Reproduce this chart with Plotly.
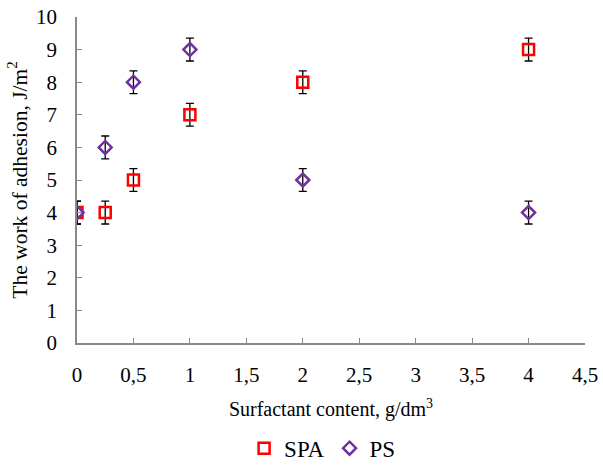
import plotly.graph_objects as go

x = [0, 0.25, 0.5, 1, 2, 4]
spa = [4, 4, 5, 7, 8, 9]
ps = [4, 6, 8, 9, 5, 4]
err = [0.35] * 6

font = "Liberation Serif"

fig = go.Figure()
fig.add_trace(go.Scatter(
    x=x, y=spa, mode="markers", name="SPA",
    marker=dict(symbol="square-open", size=11, color="#FF0000", line=dict(width=2.5, color="#FF0000")),
    error_y=dict(type="data", array=err, color="black", thickness=1.3, width=4),
))
fig.add_trace(go.Scatter(
    x=x, y=ps, mode="markers", name="PS",
    marker=dict(symbol="diamond-open", size=10, color="#7030A0", line=dict(width=2.5, color="#7030A0")),
    error_y=dict(type="data", array=err, color="black", thickness=1.3, width=4),
))

axis_common = dict(
    showgrid=False, zeroline=False, showline=True, linecolor="#898989", linewidth=1.5,
    ticks="inside", ticklen=5, tickcolor="#898989", tickwidth=1, automargin=False,
    ticklabeloverflow="allow",
    tickfont=dict(family=font, size=21, color="black"),
)

fig.update_layout(
    width=603, height=465,
    margin=dict(l=77, r=18, t=17, b=122),
    paper_bgcolor="white", plot_bgcolor="white",
    separators=", ",
    font=dict(family=font, color="black"),
    xaxis=dict(range=[0, 4.5], dtick=0.5, tick0=0, ticklabelstandoff=12,
               title=dict(text="Surfactant content, g/dm<sup>3</sup>", font=dict(family=font, size=20), standoff=16),
               **axis_common),
    yaxis=dict(range=[0, 10], dtick=1, tick0=0, ticklabelstandoff=14,
               title=dict(text="The work of adhesion, J/m<sup>2</sup>", font=dict(family=font, size=21.5), standoff=3),
               **axis_common),
    legend=dict(orientation="h", x=0.535, xanchor="center", xref="container",
                y=0.036, yanchor="middle", yref="container",
                font=dict(family=font, size=23), itemwidth=30, tracegroupgap=0),
    showlegend=True,
)

fig.write_html("out.html", post_script="document.body.style.margin='0';",
               config={"displayModeBar": False})
